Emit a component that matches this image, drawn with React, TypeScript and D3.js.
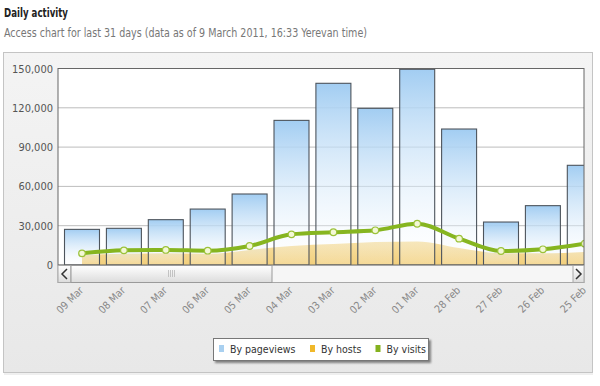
import * as d3 from "d3";

const days = ["09 Mar", "08 Mar", "07 Mar", "06 Mar", "05 Mar", "04 Mar", "03 Mar", "02 Mar", "01 Mar", "28 Feb", "27 Feb", "26 Feb", "25 Feb"];
const pageviews = [27200, 28000, 34600, 42700, 54200, 110400, 138700, 119600, 149400, 103800, 32800, 45300, 76100];
const hosts = [7500, 8500, 9000, 8500, 11500, 14500, 16000, 17500, 18000, 13000, 9000, 9000, 10000];
const visits = [8900, 11200, 11500, 10900, 14500, 23400, 25000, 26500, 31500, 20100, 10700, 12000, 16300];
const yTicks = [0, 30000, 60000, 90000, 120000, 150000];
const legendItems = [
  { label: "By pageviews", color: "#a9d0f0" },
  { label: "By hosts", color: "#f0b82a" },
  { label: "By visits", color: "#84b11e" },
];

const W = 600;
const H = 386;
const plot = { left: 58, right: 584, top: 68.5, bottom: 265 };
const font = "'DejaVu Sans Condensed', 'DejaVu Sans', sans-serif";

export default function App() {
  const x = d3.scalePoint<string>().domain(days).range([82, 584.8]);
  const bw = x.step() * 0.835;
  const y = d3.scaleLinear().domain([0, 150000]).range([plot.bottom, plot.top]);
  const fmt = d3.format(",");

  const area = d3
    .area<number>()
    .x((_, i) => x(days[i])!)
    .y0(plot.bottom)
    .y1((d) => y(d))
    .curve(d3.curveMonotoneX);
  const line = d3
    .line<number>()
    .x((_, i) => x(days[i])!)
    .y((d) => y(d))
    .curve(d3.curveMonotoneX);

  return (
    <svg width={W} height={H} style={{ position: "absolute", left: 0, top: 0 }}>
      <defs>
        <linearGradient id="barGrad" x1="0" y1="0" x2="0" y2="1">
          <stop offset="0%" stopColor="#a2cdf2" stopOpacity={1} />
          <stop offset="100%" stopColor="#ffffff" stopOpacity={0.2} />
        </linearGradient>
        <linearGradient id="panelGrad" x1="0" y1="0" x2="0" y2="1">
          <stop offset="0%" stopColor="#f4f4f4" />
          <stop offset="100%" stopColor="#e8e8e8" />
        </linearGradient>
        <linearGradient id="thumbGrad" x1="0" y1="0" x2="0" y2="1">
          <stop offset="0%" stopColor="#ffffff" />
          <stop offset="100%" stopColor="#dcdcdc" />
        </linearGradient>
        <linearGradient id="hostGrad" x1="0" y1="0" x2="0" y2="1">
          <stop offset="0%" stopColor="#f7dfa0" />
          <stop offset="100%" stopColor="#f2cf7c" />
        </linearGradient>
        <clipPath id="plotClip">
          <rect x={plot.left} y={plot.top - 2} width={plot.right - plot.left} height={plot.bottom - plot.top + 2} />
        </clipPath>
        <filter id="shadow" x="-10%" y="-30%" width="120%" height="170%">
          <feDropShadow dx="2" dy="2" stdDeviation="1.2" floodColor="#000" floodOpacity="0.45" />
        </filter>
      </defs>

      <text x={4} y={17} fontFamily={font} fontWeight="bold" fontSize={12} fill="#222" textLength={64} lengthAdjust="spacingAndGlyphs">
        Daily activity
      </text>
      <text x={4} y={37} fontFamily={font} fontSize={11.5} fill="#777" textLength={363} lengthAdjust="spacingAndGlyphs">
        Access chart for last 31 days (data as of 9 March 2011, 16:33 Yerevan time)
      </text>

      {/* panel */}
      <rect x={3.5} y={52.5} width={589} height={320} fill="url(#panelGrad)" stroke="#c4c4c4" />
      <line x1={4} x2={593} y1={374} y2={374} stroke="#e0e0e0" />

      {/* plot background */}
      <rect x={plot.left} y={plot.top} width={plot.right - plot.left} height={plot.bottom - plot.top} fill="#fff" />

      {/* grid */}
      {yTicks.map((t) => (
        <line key={t} x1={plot.left} x2={plot.right} y1={y(t)} y2={y(t)} stroke="#bdbdbd" />
      ))}

      {/* y labels */}
      {yTicks.map((t) => (
        <text key={t} x={53} y={y(t) + 4} textAnchor="end" fontFamily={font} fontSize={11} fill="#555">
          {fmt(t)}
        </text>
      ))}

      <g clipPath="url(#plotClip)">
        <path d={area(hosts) ?? ""} fill="url(#hostGrad)" />
        {pageviews.map((v, i) => (
          <rect
            key={days[i]}
            x={x(days[i])! - bw / 2}
            y={y(v)}
            width={bw}
            height={plot.bottom - y(v)}
            fill="url(#barGrad)"
            stroke="#4d545c"
            strokeWidth={1.1}
          />
        ))}
        <path d={line(visits) ?? ""} fill="none" stroke="#86b520" strokeWidth={4} strokeLinejoin="round" />
        {visits.map((v, i) => (
          <circle key={days[i]} cx={x(days[i])!} cy={y(v)} r={3.3} fill="#f3f8d6" stroke="#9cc23a" strokeWidth={1.2} />
        ))}
      </g>

      {/* plot frame */}
      <rect x={plot.left} y={plot.top} width={plot.right - plot.left} height={plot.bottom - plot.top} fill="none" stroke="#666" />

      {/* scrollbar */}
      <rect x={plot.left} y={265.5} width={plot.right - plot.left} height={17} fill="#f6f6f6" stroke="#a8a8a8" />
      <rect x={plot.left} y={265.5} width={13} height={17} fill="url(#thumbGrad)" stroke="#a8a8a8" />
      <path d="M67 269 L62 274 L67 279" fill="none" stroke="#333" strokeWidth={1.5} />
      <rect x={71} y={265.5} width={201} height={17} fill="url(#thumbGrad)" stroke="#9a9a9a" />
      {[0, 2, 4, 6].map((d) => (
        <line key={d} x1={168.5 + d} x2={168.5 + d} y1={270} y2={277} stroke="#b8b8b8" strokeWidth={0.8} />
      ))}
      <rect x={573} y={265.5} width={11} height={17} fill="url(#thumbGrad)" stroke="#a8a8a8" />
      <path d="M576 269 L581 274 L576 279" fill="none" stroke="#333" strokeWidth={1.5} />

      {/* x labels */}
      {days.map((d) => (
        <text
          key={d}
          transform={`translate(${x(d)! + 2},${291}) rotate(-45)`}
          textAnchor="end"
          fontFamily={font}
          fontSize={10.5}
          fill="#888"
        >
          {d}
        </text>
      ))}

      {/* legend */}
      <rect x={213.5} y={338.5} width={215} height={22} fill="#fff" stroke="#777" filter="url(#shadow)" />
      {legendItems.map((it, i) => {
        const lx = [219, 310, 375.5][i];
        return (
          <g key={it.label}>
            <rect x={lx} y={345} width={5} height={7} fill={it.color} />
            <text x={lx + 11} y={353} fontFamily={font} fontSize={10.5} fill="#333">
              {it.label}
            </text>
          </g>
        );
      })}
    </svg>
  );
}
